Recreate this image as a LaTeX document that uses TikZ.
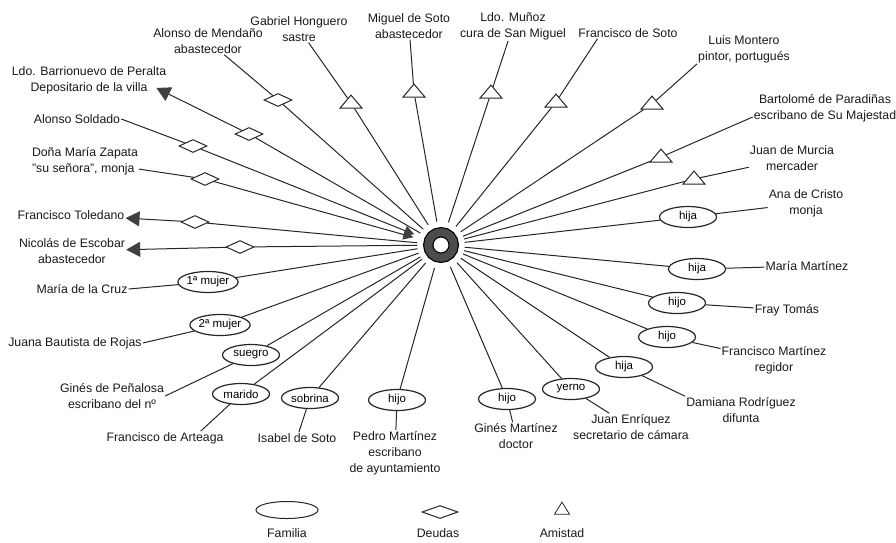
\documentclass[tikz,border=0pt]{standalone}
\usepackage{fontspec}
\setmainfont{Liberation Sans}
\usetikzlibrary{arrows.meta, positioning, shapes.geometric, calc}
\newcommand\lblfont{\fontsize{12.3pt}{16pt}\selectfont}
\newcommand\famfont{\fontsize{11.5pt}{13pt}\selectfont}

\begin{document}
\begin{tikzpicture}[
  x=1pt, y=-1pt,
  lbl/.style = {font=\lblfont, align=center, inner sep=1pt, text=black!90},
  fam/.style = {ellipse, draw=black!85, line width=1.2pt, fill=white,
    minimum width=57pt, minimum height=21pt, inner sep=0pt, font=\famfont},
  debt/.style = {diamond, draw=black!85, line width=1pt, fill=white,
    minimum width=28pt, minimum height=13pt, inner sep=0pt},
  friend/.style = {isosceles triangle, isosceles triangle apex angle=80,
    isosceles triangle stretches, shape border rotate=90,
    minimum width=22pt, minimum height=13pt, inner sep=0pt,
    draw=black!85, line width=1pt, fill=white},
  link/.style = {draw=black!85, line width=1pt},
  outarr/.style = {-{Triangle[length=14pt, width=15pt, color=black!75]}},
  inarr/.style = {{Triangle[length=10pt, width=10pt, color=black!75]}-, shorten <=5pt}
]
\useasboundingbox (0,0) rectangle (896,542);

% the person in the middle
\node[circle, draw=black, line width=1.2pt, double=black!70, double distance=8pt,
  minimum size=25.5pt, inner sep=0pt, outer sep=11pt] (ego) at (441,245) {};

% debts
\node[lbl] (mendano) at (208,41) {Alonso de Mendaño\\abastecedor};
\node[lbl] (barrio) at (89,80) {Ldo. Barrionuevo de Peralta\\Depositario de la villa};
\node[lbl] (soldado) at (77,119) {Alonso Soldado};
\node[lbl, align=left] (zapata) at (85,161) {Doña María Zapata\\"su señora", monja};
\node[lbl] (toledano) at (71,215) {Francisco Toledano};
\node[lbl] (escobar) at (72,251) {Nicolás de Escobar\\abastecedor};

\node[debt] (d1) at (278,100) {};
\node[debt] (d2) at (249,134) {};
\node[debt] (d3) at (193,146) {};
\node[debt] (d4) at (205,179) {};
\node[debt] (d5) at (195,222) {};
\node[debt] (d6) at (240,247) {};

% family
\node[lbl] (delacruz) at (82,289) {María de la Cruz};
\node[lbl] (rojas) at (75,343) {Juana Bautista de Rojas};
\node[lbl] (penalosa) at (112,396) {Ginés de Peñalosa\\escribano del nº};
\node[lbl] (arteaga) at (165,438) {Francisco de Arteaga};
\node[lbl] (isabel) at (297,438) {Isabel de Soto};
\node[lbl] (pedro) at (395,453) {Pedro Martínez\\escribano\\de ayuntamiento};
\node[lbl] (gmartinez) at (516,436) {Ginés Martínez\\doctor};
\node[lbl] (enriquez) at (631,427) {Juan Enríquez\\secretario de cámara};
\node[lbl] (damiana) at (741,410) {Damiana Rodríguez\\difunta};
\node[lbl] (fmartinez) at (774,360) {Francisco Martínez\\regidor};
\node[lbl] (tomas) at (787,310) {Fray Tomás};
\node[lbl] (mmartinez) at (807,266) {María Martínez};
\node[lbl] (anacristo) at (806,203) {Ana de Cristo\\monja};

\node[fam] (e1) at (208,282) {1ª mujer};
\node[fam] (e2) at (220,325) {2ª mujer};
\node[fam] (e3) at (251,355) {suegro};
\node[fam] (e4) at (241,394) {marido};
\node[fam] (e5) at (310,398) {sobrina};
\node[fam] (e6) at (397,400) {hijo};
\node[fam] (e7) at (507,399) {hijo};
\node[fam] (e8) at (571,389) {yerno};
\node[fam] (e9) at (624,367) {hija};
\node[fam] (e10) at (667,337) {hijo};
\node[fam] (e11) at (677,303) {hijo};
\node[fam] (e12) at (697,269) {hija};
\node[fam] (e13) at (688,217) {hija};

% friends
\node[lbl] (murcia) at (792,158) {Juan de Murcia\\mercader};
\node[lbl] (paradinas) at (825,108) {Bartolomé de Paradiñas\\escribano de Su Majestad};
\node[lbl] (montero) at (744,49) {Luis Montero\\pintor, portugués};
\node[lbl] (fsoto) at (628,33) {Francisco de Soto};
\node[lbl] (munoz) at (513,26) {Ldo. Muñoz\\cura de San Miguel};
\node[lbl] (msoto) at (409,26) {Miguel de Soto\\abastecedor};
\node[lbl] (honguero) at (299,29) {Gabriel Honguero\\sastre};

\node[friend] (t1) at (351,103) {};
\node[friend] (t2) at (414,92) {};
\node[friend] (t3) at (491,93) {};
\node[friend] (t4) at (556,102) {};
\node[friend] (t5) at (652,104) {};
\node[friend] (t6) at (661,157) {};
\node[friend] (t7) at (694,179) {};

% connectors
\draw[link] (ego) -- (d1) -- (mendano);
\draw[link, outarr] (ego) -- (d2) -- ($(barrio.south east)+(-11,-7)$);
\draw[link, inarr] (ego) -- (d3);
\draw[link] (d3) -- (soldado.east);
\draw[link, inarr] (ego) -- (d4);
\draw[link] (d4) -- (zapata);
\draw[link, outarr] (ego) -- (d5) -- (toledano);
\draw[link, outarr] (ego) -- (d6) -- (escobar);

\draw[link] (ego) -- (e1) -- (delacruz.east);
\draw[link] (ego) -- (e2) -- (rojas.east);
\draw[link] (ego) -- (e3) -- (penalosa.east);
\draw[link] (ego) -- (e4) -- ($(arteaga.north)!0.6!(arteaga.north east)$);
\draw[link] (ego) -- (e5) -- (isabel);
\draw[link] (ego) -- (e6) -- (pedro);
\draw[link] (ego) -- (e7) -- (gmartinez);
\draw[link] (ego) -- (e8) -- (enriquez);
\draw[link] (ego) -- (e9) -- (damiana.north west);
\draw[link] (ego) -- (e10) -- (fmartinez);
\draw[link] (ego) -- (e11) -- (tomas);
\draw[link] (ego) -- (e12) -- (mmartinez);
\draw[link] (ego) -- (e13) -- (anacristo);

\draw[link] (ego) -- (t7) -- (murcia);
\draw[link] (ego) -- (t6) -- ($(paradinas.west)!0.6!(paradinas.south west)$);
\draw[link] (ego) -- (t5) -- (montero.south west);
\draw[link] (ego) -- (t4) -- ($(fsoto.south west)!0.2!(fsoto.south east)$);
\draw[link] (ego) -- (t3) -- (munoz);
\draw[link] (ego) -- (t2) -- (msoto);
\draw[link] (ego) -- (t1) -- (honguero);

% key
\node[fam, minimum width=62pt, minimum height=17pt, line width=1pt] (kfam) at (287,510) {};
\node[lbl] (kfamtxt) at (287,533) {Familia};
\node[debt, minimum width=36pt] (kdebt) at (440,512) {};
\node[lbl] (kdebttxt) at (438,533) {Deudas};
\node[friend, minimum width=15pt, minimum height=12pt, line width=0.8pt] (kfriend) at (562,510) {};
\node[lbl] (kfriendtxt) at (562,533) {Amistad};
\end{tikzpicture}
\end{document}
